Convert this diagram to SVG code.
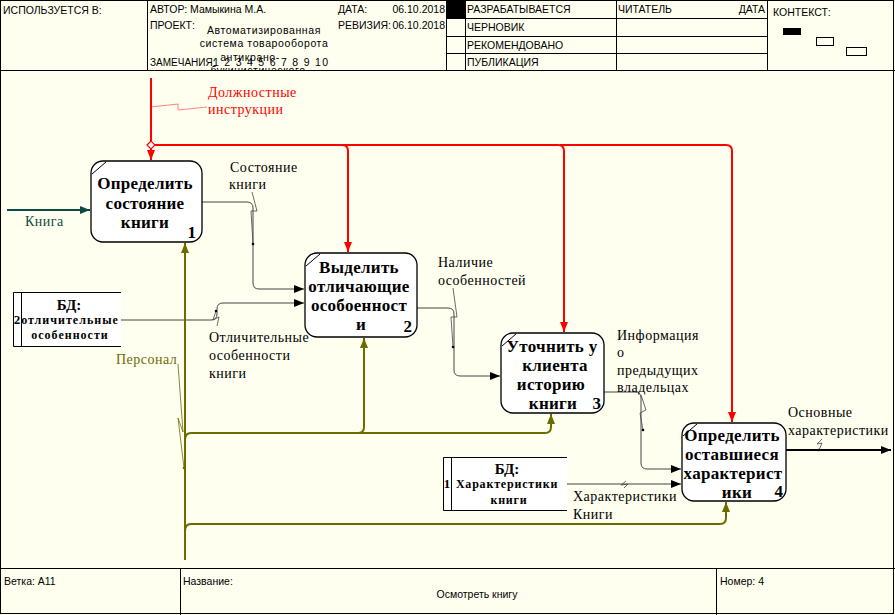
<svg xmlns="http://www.w3.org/2000/svg" width="895" height="615" viewBox="0 0 895 615">
<defs>
<style>
.h{font-family:"Liberation Sans",Arial,sans-serif;font-size:10.5px;fill:#000}
.hp{font-family:"Liberation Sans",Arial,sans-serif;font-size:10.5px;fill:#000;letter-spacing:0.6px;text-anchor:middle}
.n{font-family:"Liberation Serif","Times New Roman",serif;font-weight:bold;font-size:17px;fill:#000;text-anchor:middle;letter-spacing:0.3px}
.num{font-family:"Liberation Serif","Times New Roman",serif;font-weight:bold;font-size:17px;fill:#000;text-anchor:end}
.db{font-family:"Liberation Serif","Times New Roman",serif;font-weight:bold;font-size:12px;fill:#000;text-anchor:middle;letter-spacing:0.8px}
.dbh{font-family:"Liberation Serif","Times New Roman",serif;font-weight:bold;font-size:15px;fill:#000;text-anchor:middle}
.l{font-family:"Liberation Serif","Times New Roman",serif;font-size:14px;fill:#000;letter-spacing:0.5px}
.box{fill:#fff;stroke:#000;stroke-width:1.3}
.g{fill:none;stroke:#000;stroke-width:1}
.c{fill:none;stroke:#454545;stroke-width:1}
.r{fill:none;stroke:#f00;stroke-width:2}
.o{fill:none;stroke:#6b6b00;stroke-width:2}
.sq{fill:none;stroke-width:0.8}
</style>
<marker id="ab" viewBox="0 0 10 8" refX="10" refY="4" markerWidth="10" markerHeight="8" markerUnits="userSpaceOnUse" orient="auto"><path d="M0,0L10,4L0,8z" fill="#000"/></marker>
<marker id="ar" viewBox="0 0 10 8" refX="10" refY="4" markerWidth="10" markerHeight="8" markerUnits="userSpaceOnUse" orient="auto"><path d="M0,0L10,4L0,8z" fill="#f00"/></marker>
<marker id="ao" viewBox="0 0 10 8" refX="10" refY="4" markerWidth="10" markerHeight="8" markerUnits="userSpaceOnUse" orient="auto"><path d="M0,0L10,4L0,8z" fill="#6b6b00"/></marker>
<marker id="at" viewBox="0 0 10 8" refX="10" refY="4" markerWidth="10" markerHeight="8" markerUnits="userSpaceOnUse" orient="auto"><path d="M0,0L10,4L0,8z" fill="#0f4a40"/></marker>
<clipPath id="hc"><rect x="147" y="0" width="300" height="70"/></clipPath>
</defs>
<rect x="0" y="0" width="895" height="615" fill="#fffff0"/>

<g id="header">
<rect x="0.5" y="0.5" width="893" height="613" fill="none" stroke="#000" stroke-width="1"/>
<line x1="0" y1="70.5" x2="895" y2="70.5" stroke="#000"/>
<line x1="147.5" y1="0" x2="147.5" y2="70" stroke="#000"/>
<line x1="446.5" y1="0" x2="446.5" y2="70" stroke="#000"/>
<line x1="465.5" y1="0" x2="465.5" y2="70" stroke="#000"/>
<line x1="616.5" y1="0" x2="616.5" y2="70" stroke="#000"/>
<line x1="767.5" y1="0" x2="767.5" y2="70" stroke="#000"/>
<line x1="447" y1="18.5" x2="767" y2="18.5" stroke="#000"/>
<line x1="447" y1="36.5" x2="767" y2="36.5" stroke="#000"/>
<line x1="447" y1="53.5" x2="767" y2="53.5" stroke="#000"/>
<rect x="447" y="0" width="18" height="18" fill="#000"/>
<text class="h" x="3" y="14">ИСПОЛЬЗУЕТСЯ В:</text>
<text class="h" x="150" y="13">АВТОР: Мамыкина М.А.</text>
<text class="h" x="338" y="13">ДАТА:</text>
<text class="h" x="445" y="13" text-anchor="end">06.10.2018</text>
<text class="h" x="150" y="29">ПРОЕКТ:</text>
<text class="h" x="338" y="29">РЕВИЗИЯ:</text>
<text class="h" x="445" y="29" text-anchor="end">06.10.2018</text>
<g clip-path="url(#hc)">
<text class="hp" x="264" y="34">Автоматизированная</text>
<text class="hp" x="264" y="47">система товарооборота</text>
<text class="hp" x="250" y="61">антикрано-</text>
<text class="hp" x="258" y="74">букинистического</text>
</g>
<text class="h" x="150" y="66" style="font-size:10px">ЗАМЕЧАНИЯ:</text>
<text class="h" x="213" y="66" textLength="115" lengthAdjust="spacing">1 2 3 4 5 6 7 8 9 10</text>
<text class="h" x="467" y="13">РАЗРАБАТЫВАЕТСЯ</text>
<text class="h" x="467" y="31">ЧЕРНОВИК</text>
<text class="h" x="467" y="49">РЕКОМЕНДОВАНО</text>
<text class="h" x="467" y="66">ПУБЛИКАЦИЯ</text>
<text class="h" x="618" y="13">ЧИТАТЕЛЬ</text>
<text class="h" x="765" y="13" text-anchor="end">ДАТА</text>
<text class="h" x="773" y="16">КОНТЕКСТ:</text>
<rect x="783" y="28" width="18" height="7" fill="#000"/>
<rect x="816.5" y="37.5" width="17" height="8" fill="none" stroke="#000"/>
<rect x="846.5" y="47.5" width="20" height="8" fill="none" stroke="#000"/>
</g>

<g id="footer">
<line x1="0" y1="568.5" x2="895" y2="568.5" stroke="#000"/>
<line x1="180.5" y1="568" x2="180.5" y2="615" stroke="#000"/>
<line x1="716.5" y1="568" x2="716.5" y2="615" stroke="#000"/>
<text class="h" x="4" y="585">Ветка: A11</text>
<text class="h" x="183" y="585">Название:</text>
<text class="h" x="477" y="598" text-anchor="middle">Осмотреть книгу</text>
<text class="h" x="720" y="585">Номер: 4</text>
</g>

<g id="connectors">
<path class="r" d="M151,78 V160" marker-end="url(#ar)"/>
<path class="r" d="M151,145 H558 Q564,145 564,151 V332" stroke-width="2.5" marker-end="url(#ar)"/>
<path class="r" d="M342,145 Q348,145 348,151 V252" marker-end="url(#ar)"/>
<path class="r" d="M560,145 H726 Q732,145 732,151 V422" marker-end="url(#ar)"/>
<path d="M147,145 L151,141 L155,145 L151,149z" fill="#fff" stroke="#f00" stroke-width="1.2"/>
<polyline class="sq" stroke="#f66" points="151,107 178,104 178,110 207,107"/>
<circle cx="151" cy="107" r="1.2" fill="#f00"/>
<text class="l" x="208" y="97" style="fill:#f00">Должностные</text>
<text class="l" x="208" y="114" style="fill:#f00">инструкции</text>

<path d="M7,210 H90" fill="none" stroke="#0f4a40" stroke-width="2" marker-end="url(#at)"/>
<text class="l" x="25" y="226" style="fill:#0f4a40">Книга</text>

<path class="c" d="M202,202 H247 Q253,202 253,208 V283 Q253,289 259,289 H304" marker-end="url(#ab)"/>
<polyline class="sq" stroke="#454545" points="252,192 257,211 251,211 253,244"/>
<circle cx="253" cy="244" r="1.3" fill="#000"/>
<text class="l" x="230" y="172">Состояние</text>
<text class="l" x="229" y="189">книги</text>

<path class="c" d="M121,320 H211 Q217,320 217,314 V309 Q217,303 223,303 H304" marker-end="url(#ab)"/>
<polyline class="sq" stroke="#454545" points="216,311 213,320 219,317 217,326"/>
<circle cx="216" cy="311" r="1.3" fill="#000"/>
<text class="l" x="209" y="342">Отличительные</text>
<text class="l" x="209" y="360">особенности</text>
<text class="l" x="209" y="378">книги</text>

<path class="c" d="M417,308 H448 Q454,308 454,314 V370 Q454,376 460,376 H500" marker-end="url(#ab)"/>
<polyline class="sq" stroke="#454545" points="453,288 457,317 451,317 453,347"/>
<circle cx="453" cy="347" r="1.3" fill="#000"/>
<text class="l" x="438" y="267">Наличие</text>
<text class="l" x="438" y="285">особенностей</text>

<path class="c" d="M604,392 H635 Q641,392 641,398 V463 Q641,469 647,469 H681" marker-end="url(#ab)"/>
<polyline class="sq" stroke="#454545" points="641,395 646,410 640,413 643,430"/>
<circle cx="643" cy="430" r="1.3" fill="#000"/>
<text class="l" x="617" y="340">Информация</text>
<text class="l" x="617" y="357">о</text>
<text class="l" x="617" y="375">предыдущих</text>
<text class="l" x="617" y="392">владельцах</text>

<path class="c" d="M567,484 H681" marker-end="url(#ab)"/>
<polyline class="sq" stroke="#454545" points="626,481 621,485 628,484 624,488"/>
<text class="l" x="573" y="501">Характеристики</text>
<text class="l" x="573" y="519">Книги</text>

<path d="M786,450 H891" fill="none" stroke="#000" stroke-width="2" marker-end="url(#ab)"/>
<polyline class="sq" stroke="#454545" points="822,439 817,444 822,443 819,450"/>
<circle cx="819" cy="450" r="1.3" fill="#000"/>
<text class="l" x="788" y="417">Основные</text>
<text class="l" x="788" y="435">характеристики</text>

<path class="o" d="M185,560 V243" marker-end="url(#ao)"/>
<path class="o" d="M185,440 Q185,433 191,433 H545 Q551,433 551,427 V414" marker-end="url(#ao)"/>
<path class="o" d="M358,433 Q364,433 364,427 V338" marker-end="url(#ao)"/>
<path class="o" d="M185,531 Q185,524 191,524 H720 Q726,524 726,518 V502" marker-end="url(#ao)"/>
<polyline class="sq" stroke="#6b6b00" points="178,364 183,432 178,418 184,468"/>
<circle cx="184" cy="468" r="1.3" fill="#6b6b00"/>
<text class="l" x="116" y="364" style="fill:#6b6b00">Персонал</text>
</g>

<g id="node1">
<rect class="box" x="91" y="161" width="111" height="81" rx="12"/>
<line class="g" x1="92" y1="174" x2="106" y2="162"/>
<text class="n" x="145" y="189">Определить</text>
<text class="n" x="145" y="209">состояние</text>
<text class="n" x="145" y="228">книги</text>
<text class="num" x="196" y="238">1</text>
</g>

<g id="node2">
<rect class="box" x="305" y="253" width="112" height="84" rx="12"/>
<line class="g" x1="306" y1="266" x2="320" y2="254"/>
<text class="n" x="359" y="273">Выделить</text>
<text class="n" x="359" y="292">отличающие</text>
<text class="n" x="359" y="311">особоенност</text>
<text class="n" x="361" y="330">и</text>
<text class="num" x="412" y="332">2</text>
</g>

<g id="node3">
<rect class="box" x="501" y="333" width="103" height="80" rx="12"/>
<line class="g" x1="502" y1="346" x2="516" y2="334"/>
<text class="n" x="552" y="352">Уточнить у</text>
<text class="n" x="555" y="371">клиента</text>
<text class="n" x="551" y="390">историю</text>
<text class="n" x="553" y="409">книги</text>
<text class="num" x="601" y="409">3</text>
</g>

<g id="node4">
<rect class="box" x="682" y="423" width="104" height="78" rx="12"/>
<line class="g" x1="683" y1="436" x2="697" y2="424"/>
<text class="n" x="732" y="441">Определить</text>
<text class="n" x="732" y="460">оставшиеся</text>
<text class="n" x="733" y="479">характерист</text>
<text class="n" x="737" y="498">ики</text>
<text class="num" x="783" y="497">4</text>
</g>

<g id="db2">
<rect x="13" y="292" width="108" height="55" fill="#fff"/>
<path class="g" d="M121,292.5 H13.5 V346.5 H121 M21.5,292 V347"/>
<text class="db" x="17" y="324" style="font-size:13px;letter-spacing:0">2</text>
<text class="dbh" x="69" y="310">БД:</text>
<text class="db" x="70" y="324" style="letter-spacing:1px">отличительные</text>
<text class="db" x="70" y="339" style="letter-spacing:1px">особенности</text>
</g>

<g id="db1">
<rect x="443" y="457" width="124" height="54" fill="#fff"/>
<path class="g" d="M567,457.5 H443.5 V510.5 H567 M451.5,457 V511"/>
<text class="db" x="447" y="488" style="font-size:13px;letter-spacing:0">1</text>
<text class="dbh" x="507" y="474">БД:</text>
<text class="db" x="507" y="488">Характеристики</text>
<text class="db" x="509" y="504">книги</text>
</g>
</svg>
